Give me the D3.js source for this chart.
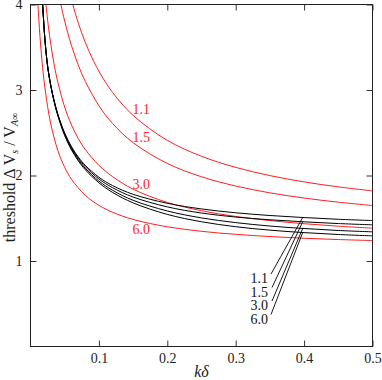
<!DOCTYPE html>
<html><head><meta charset="utf-8">
<script src="https://cdn.jsdelivr.net/npm/d3@7"></script>
<style>body{margin:0;background:#fff}svg{display:block}</style>
</head><body><svg id="c" width="382" height="380"></svg>
<script>
// ---------- data ----------
const xTicks = [0.1, 0.2, 0.3, 0.4, 0.5];
const yTicks = [1, 2, 3, 4];
const seriesNames = ["1.1", "1.5", "3.0", "6.0"];

// red curves: [kδ, threshold ΔVs/VA∞]
const red11 = [[0.058,4.113],[0.0619,4.0],[0.07,3.78],[0.08,3.559],[0.09,3.375],[0.1,3.219],[0.12,2.971],[0.15,2.703],[0.2,2.411],[0.25,2.225],[0.3,2.095],[0.35,1.999],[0.4,1.925],[0.45,1.867],[0.5,1.82]];
const red15 = [[0.042,4.094],[0.0444,4.0],[0.05,3.805],[0.06,3.517],[0.07,3.289],[0.08,3.102],[0.1,2.817],[0.12,2.608],[0.15,2.384],[0.2,2.141],[0.25,1.985],[0.3,1.877],[0.35,1.797],[0.4,1.736],[0.45,1.688],[0.5,1.649]];
const red30 = [[0.021,4.12],[0.0226,4.0],[0.026,3.75],[0.03,3.52],[0.035,3.28],[0.04,3.09],[0.05,2.80],[0.06,2.59],[0.07,2.43],[0.08,2.305],[0.1,2.12],[0.12,1.987],[0.15,1.84],[0.2,1.685],[0.25,1.588],[0.3,1.521],[0.35,1.473],[0.4,1.436],[0.45,1.407],[0.5,1.384]];
const red60 = [[0.0105,4.055],[0.012,3.846],[0.014,3.61],[0.017,3.323],[0.02,3.096],[0.025,2.806],[0.03,2.591],[0.04,2.292],[0.05,2.095],[0.06,1.955],[0.08,1.769],[0.1,1.651],[0.12,1.57],[0.15,1.486],[0.2,1.40],[0.25,1.347],[0.3,1.312],[0.35,1.286],[0.4,1.266],[0.45,1.251],[0.5,1.239]];

// black curves (shared kδ samples)
const blkK  = [0.0155,0.017,0.0185,0.021,0.025,0.03,0.035,0.04,0.05,0.06,0.07,0.08,0.1,0.12,0.15,0.2,0.25,0.3,0.35,0.4,0.45,0.5];
const blk11 = [4.3,4.1,3.9,3.6,3.28,3.04,2.86,2.716,2.496,2.336,2.215,2.12,1.98,1.882,1.78,1.675,1.609,1.564,1.532,1.508,1.488,1.473];
const blk15 = [4.3,4.1,3.9,3.6,3.28,3.04,2.858,2.712,2.486,2.324,2.201,2.104,1.96,1.857,1.748,1.633,1.561,1.514,1.482,1.458,1.438,1.423];
const blk30 = [4.3,4.1,3.9,3.6,3.28,3.035,2.852,2.704,2.476,2.311,2.185,2.085,1.935,1.827,1.71,1.585,1.504,1.449,1.409,1.38,1.357,1.341];
const blk60 = [4.3,4.1,3.9,3.6,3.28,3.032,2.848,2.698,2.466,2.298,2.17,2.068,1.915,1.802,1.68,1.545,1.459,1.401,1.361,1.332,1.31,1.294];

const redSeries = [red11, red15, red30, red60];
const blackSeries = [blk11, blk15, blk30, blk60].map(v => blkK.map((k,i)=>[k, v[i]]));

// ---------- layout ----------
const L = 30.5, R = 372.5, T = 4.5, B = 346.5;
const RED = "#ff1e1e";
const redLabelK = 0.149;
const redLabelV = [2.715, 2.39, 1.84, 1.31];
const leaderK = 0.398;
const blackLabelX = 268, blackLabelY0 = 283, blackLabelDy = 13.5;
const leaderEnds = [[271,274],[272,287.5],[272,301],[271,314.5]];

const svg = d3.select("#c");
const x = d3.scaleLinear().domain([0, 0.5]).range([L, R]);
const y = d3.scaleLinear().domain([0, 4]).range([B, T]);

svg.append("defs").append("clipPath").attr("id","clip")
  .append("rect").attr("x",L).attr("y",T).attr("width",R-L).attr("height",B-T);

const line = d3.line().x(d=>x(d[0])).y(d=>y(d[1])).curve(d3.curveCatmullRom.alpha(0.5));
const g = svg.append("g").attr("clip-path","url(#clip)");
g.selectAll("path.red").data(redSeries).join("path").attr("class","red")
  .attr("d", line).attr("fill","none").attr("stroke",RED).attr("stroke-width",1);
g.selectAll("path.blk").data(blackSeries).join("path").attr("class","blk")
  .attr("d", line).attr("fill","none").attr("stroke","#000").attr("stroke-width",1);

// axes (inward ticks, mirrored)
const font = "Liberation Serif";
function styleAxis(sel){
  sel.select(".domain").remove();
  sel.selectAll("line").attr("stroke","#333");
  sel.selectAll("text").style("font-family",font).attr("font-size",14).attr("fill","#222");
}
svg.append("g").attr("transform",`translate(0,${B})`)
  .call(d3.axisBottom(x).tickValues(xTicks).tickSizeInner(-6).tickSizeOuter(0).tickPadding(7).tickFormat(d3.format(".1f")))
  .call(styleAxis);
svg.append("g").attr("transform",`translate(0,${T})`)
  .call(d3.axisTop(x).tickValues(xTicks).tickSizeInner(-6).tickSizeOuter(0).tickFormat(""))
  .call(styleAxis);
svg.append("g").attr("transform",`translate(${L},0)`)
  .call(d3.axisLeft(y).tickValues(yTicks).tickSizeInner(-6).tickSizeOuter(0).tickPadding(8).tickFormat(d3.format("d")))
  .call(styleAxis);
svg.append("g").attr("transform",`translate(${R},0)`)
  .call(d3.axisRight(y).tickValues(yTicks).tickSizeInner(-6).tickSizeOuter(0).tickFormat(""))
  .call(styleAxis);
svg.append("rect").attr("x",L).attr("y",T).attr("width",R-L).attr("height",B-T)
  .attr("fill","none").attr("stroke","#222").attr("stroke-width",1);

// red labels
svg.selectAll("text.rl").data(seriesNames).join("text").attr("class","rl")
  .attr("x", x(redLabelK)).attr("y",(d,i)=>y(redLabelV[i]))
  .style("font-family",font).attr("font-size",14).attr("fill",RED).text(d=>d);

// black labels with leader lines
function valAt(arr,k){
  const i = d3.bisector(d=>d[0]).left(arr,k);
  const a = arr[i-1], b = arr[i];
  const t = (k-a[0])/(b[0]-a[0]);
  return a[1] + t*(b[1]-a[1]);
}
svg.selectAll("line.ld").data(blackSeries).join("line").attr("class","ld")
  .attr("x1",(d,i)=>leaderEnds[i][0]).attr("y1",(d,i)=>leaderEnds[i][1])
  .attr("x2",x(leaderK)).attr("y2",d=>y(valAt(d,leaderK)))
  .attr("stroke","#000").attr("stroke-width",0.9);
svg.selectAll("text.bl").data(seriesNames).join("text").attr("class","bl")
  .attr("x",blackLabelX).attr("y",(d,i)=>blackLabelY0+i*blackLabelDy).attr("text-anchor","end")
  .style("font-family",font).attr("font-size",14).attr("fill","#111").text(d=>d);

// axis titles
svg.append("text").attr("x",(L+R)/2).attr("y",377).attr("text-anchor","middle")
  .style("font-family",font).attr("font-size",16).attr("font-style","italic").attr("fill","#222").text("kδ");
const yl = svg.append("text").attr("transform",`translate(15,${(T+B)/2+2}) rotate(-90)`)
  .attr("text-anchor","middle").style("font-family",font).attr("font-size",16).attr("fill","#222");
yl.append("tspan").text("threshold Δ V");
yl.append("tspan").attr("font-size",10).attr("dy",3).attr("font-style","italic").text("s");
yl.append("tspan").attr("dy",-3).text(" / V");
yl.append("tspan").attr("font-size",10).attr("dy",3).attr("font-style","italic").text("A∞");
</script></body></html>
